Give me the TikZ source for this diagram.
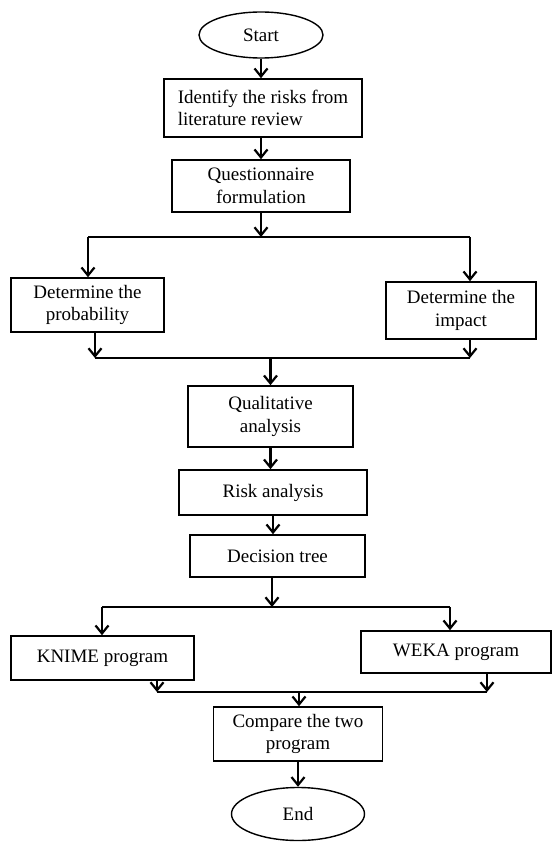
\documentclass[tikz,border=0pt]{standalone}
\usepackage{fontspec}
\setmainfont{Liberation Serif}
\usetikzlibrary{shapes.geometric, arrows.meta, positioning}

\tikzset{
  block/.style={draw, rectangle, line width=1.6pt, inner sep=0pt, align=center,
                font=\fontsize{19}{22.5}\selectfont},
  term/.style={draw, ellipse, line width=1.4pt, inner sep=0pt,
               font=\fontsize{19}{22.5}\selectfont},
  link/.style={line width=2.2pt},
  arr/.style={link, -{Straight Barb[length=8pt, width=13pt, line width=2.2pt]}}
}

\begin{document}
\begin{tikzpicture}[x=1pt, y=-1pt]

        \useasboundingbox (0,0) rectangle (553,842);  % page size of the chart

        % Boxes, top to bottom
        \node[term, minimum width=124pt, minimum height=46pt] (start) at (261,35) {Start};
        \node[block, minimum width=198pt, minimum height=58pt, align=left] (ident) at (263,108) {Identify the risks from\\literature review};
        \node[block, minimum width=178pt, minimum height=52pt] (qform) at (261,186) {Questionnaire\\formulation};
        \node[block, minimum width=153pt, minimum height=54pt] (prob) at (87.5,305) {Determine the\\probability};
        \node[block, minimum width=150pt, minimum height=57pt] (impact) at (461,310.5) {Determine the\\impact};
        \node[block, minimum width=165pt, minimum height=61pt] (qual) at (270.5,416.5) {Qualitative\\analysis};
        \node[block, minimum width=188pt, minimum height=45pt] (risk) at (273,492.5) {Risk analysis};
        \node[block, minimum width=175pt, minimum height=42pt] (dtree) at (277.5,556) {Decision tree};
        \node[block, minimum width=183pt, minimum height=44pt] (knime) at (102.5,658) {KNIME program};
        \node[block, minimum width=190pt, minimum height=42pt] (weka) at (456,652) {WEKA program};
        \node[block, minimum width=169pt, minimum height=54pt] (compare) at (298,734) {Compare the two\\program};
        \node[term, minimum width=133pt, minimum height=53pt] (end) at (298,814) {End};

        % Split and merge points
        \coordinate (s1l) at (88,237);
        \coordinate (s1r) at (470,237);
        \coordinate (m1l) at (95,358);
        \coordinate (m1r) at (470,358);
        \coordinate (s2c) at (272,607);
        \coordinate (s2l) at (102,607);
        \coordinate (s2r) at (450,607);
        \coordinate (m2l) at (157,692);
        \coordinate (m2r) at (487,692);
        \coordinate (m2c) at (299,692);

        % Straight arrows
        \draw[arr] (start.south) -- (start.south |- ident.north);
        \draw[arr] (qform.north |- ident.south) -- (qform.north);
        \draw[arr] (qform.south) -- (qform.south |- s1l);

        % First split
        \draw[link] (s1l) -- (s1r);
        \draw[arr] (s1l) -- (s1l |- prob.north);
        \draw[arr] (s1r) -- (s1r |- impact.north);

        % First merge
        \draw[arr] (m1l |- prob.south) -- (m1l);
        \draw[arr] (m1r |- impact.south) -- (m1r);
        \draw[link] (m1l) -- (m1r);
        \draw[arr] (qual.north |- m1l) -- (qual.north);

        \draw[arr] (qual.south) -- (qual.south |- risk.north);
        \draw[arr] (risk.south) -- (risk.south |- dtree.north);
        \draw[arr] (s2c |- dtree.south) -- (s2c);

        % Second split
        \draw[link] (s2l) -- (s2r);
        \draw[arr] (s2l) -- (s2l |- knime.north);
        \draw[arr] (s2r) -- (s2r |- weka.north);

        % Second merge
        \draw[arr] (m2l |- knime.south) -- (m2l);
        \draw[arr] (m2r |- weka.south) -- (m2r);
        \draw[link] (m2l) -- (m2r);
        \draw[arr] (m2c) -- (m2c |- compare.north);
        \draw[arr] (compare.south) -- (compare.south |- end.north);

\end{tikzpicture}
\end{document}
